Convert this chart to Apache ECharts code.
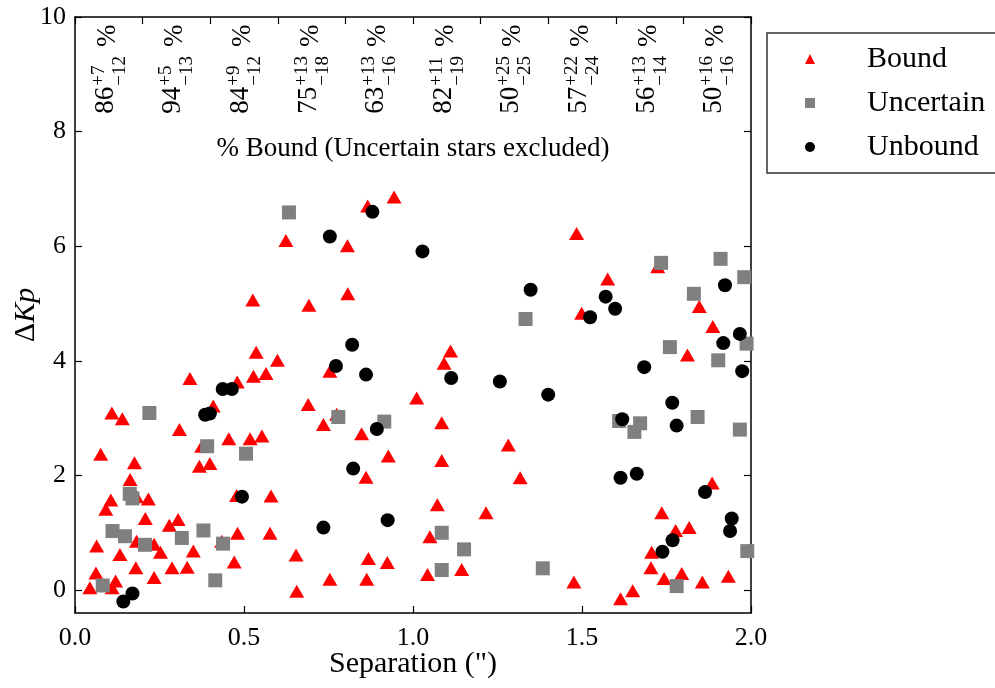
<!DOCTYPE html>
<html><head><meta charset="utf-8">
<script src="https://cdn.jsdelivr.net/npm/echarts@6/dist/echarts.min.js"></script>
<style>html,body{margin:0;padding:0;background:#fff}#c{width:995px;height:688px}</style>
</head><body><div id="c"></div>
<script>
const boundPts = [
 [0.109,3.09],[0.140,2.99],[0.409,3.21],[0.309,2.80],[0.455,2.64],[0.518,2.64],[0.553,2.69],[0.375,2.51],
 [0.076,2.37],[0.176,2.22],[0.368,2.16],[0.399,2.21],[0.163,1.93],[0.182,1.63],[0.217,1.59],[0.106,1.57],
 [0.091,1.41],[0.478,1.65],[0.580,1.64],[0.208,1.25],[0.279,1.13],[0.305,1.23],[0.182,0.85],[0.234,0.80],
 [0.253,0.66],[0.350,0.68],[0.434,0.85],[0.481,0.99],[0.577,0.99],[0.654,0.61],[0.064,0.77],[0.133,0.62],
 [0.471,0.49],[0.180,0.39],[0.287,0.39],[0.332,0.40],[0.234,0.22],[0.062,0.30],[0.044,0.04],[0.120,0.16],
 [0.110,0.04],[0.656,-0.02],[0.624,6.10],[0.526,5.06],[0.536,4.15],[0.599,4.01],[0.528,3.73],[0.565,3.78],
 [0.340,3.69],[0.480,3.63],[0.866,6.70],[0.944,6.86],[0.806,6.01],[0.807,5.17],[0.692,4.97],[0.754,3.82],
 [1.111,4.17],[1.092,3.96],[1.011,3.35],[0.690,3.24],[0.774,3.07],[0.735,2.89],[0.848,2.73],[1.085,2.92],
 [1.282,2.53],[0.927,2.34],[1.085,2.26],[0.861,1.97],[1.317,1.96],[1.072,1.49],[1.216,1.35],[1.050,0.93],
 [0.868,0.55],[0.924,0.48],[1.043,0.27],[1.144,0.36],[0.754,0.19],[0.863,0.19],[1.484,6.22],[1.724,5.64],
 [1.576,5.43],[1.847,4.95],[1.499,4.83],[1.887,4.60],[1.812,4.10],[1.885,1.87],[1.736,1.35],[1.817,1.09],
 [1.777,1.04],[1.706,0.66],[1.704,0.39],[1.743,0.20],[1.795,0.29],[1.856,0.14],[1.933,0.24],[1.476,0.14],
 [1.650,-0.01],[1.614,-0.15]
];
const uncertainPts = [
 [0.220,3.09],[0.391,2.51],[0.506,2.38],[0.162,1.68],[0.170,1.60],[0.111,1.03],[0.148,0.94],[0.207,0.79],
 [0.316,0.91],[0.380,1.04],[0.438,0.81],[0.082,0.08],[0.415,0.17],[0.633,6.59],[0.779,3.02],[0.915,2.94],
 [1.085,1.00],[1.151,0.71],[1.085,0.35],[1.333,4.73],[1.910,5.78],[1.734,5.71],[1.980,5.46],[1.831,5.17],
 [1.987,4.30],[1.760,4.24],[1.903,4.01],[1.672,2.91],[1.655,2.76],[1.842,3.02],[1.967,2.80],[1.989,0.68],
 [1.384,0.38],[1.780,0.07],[1.610,2.95]
];
const unboundPts = [
 [0.385,3.06],[0.399,3.08],[0.494,1.63],[0.170,-0.06],[0.143,-0.20],[0.437,3.51],[0.464,3.51],[0.880,6.60],
 [0.754,6.17],[1.028,5.91],[0.820,4.28],[0.772,3.91],[0.861,3.76],[1.113,3.70],[1.257,3.64],[0.893,2.81],
 [0.823,2.12],[0.735,1.09],[0.925,1.22],[1.348,5.24],[1.923,5.32],[1.570,5.12],[1.598,4.91],[1.524,4.76],
 [1.967,4.47],[1.918,4.31],[1.974,3.82],[1.684,3.89],[1.400,3.41],[1.767,3.27],[1.619,2.98],[1.780,2.87],
 [1.614,1.96],[1.662,2.03],[1.864,1.71],[1.943,1.25],[1.938,1.03],[1.768,0.87],[1.738,0.67]
];
const binCenters = [0.1,0.3,0.5,0.7,0.9,1.1,1.3,1.5,1.7,1.9];
const pctBound   = [86,94,84,75,63,82,50,57,56,50];
const errPlus    = [7,5,9,13,13,11,25,22,13,16];
const errMinus   = [12,13,12,18,16,19,25,24,14,16];
const annotTopY = 9.87;
const captionPos = [1.0, 7.70];
const captionText = '% Bound (Uncertain stars excluded)';
const yTickValues = [0,2,4,6,8,10];

const FONT = '"Liberation Serif","Times New Roman",serif';
const mctx = document.createElement('canvas').getContext('2d');
function tw(s, size){ mctx.font = size + 'px "Liberation Serif"'; return mctx.measureText(s).width; }

const chart = echarts.init(document.getElementById('c'), null, {renderer:'canvas'});
const axisLine = {show:true, onZero:false, lineStyle:{color:'#000', width:1.5}};
const tick = {show:true, inside:true, length:7, lineStyle:{color:'#000', width:1.2}};

const annotData = binCenters.map((x,i)=>[x, annotTopY, pctBound[i], errPlus[i], errMinus[i]]);

chart.setOption({
  animation:false,
  backgroundColor:'#fff',
  grid:{left:75, right:244, top:17, bottom:75, containLabel:false, outerBoundsMode:'none'},
  legend:{
    orient:'vertical', left:767, top:33,
    padding:[9,30,9,38],
    itemWidth:10, itemHeight:10, itemGap:10,
    borderColor:'#333', borderWidth:1.5, borderRadius:0,
    textStyle:{fontFamily:FONT, fontSize:30, color:'#000', lineHeight:34, padding:[0,0,0,47]},
    data:['Bound','Uncertain','Unbound']
  },
  xAxis:[
    {type:'value', min:0, max:2, interval:0.5, position:'bottom',
     name:'Separation (")', nameLocation:'middle', nameGap:36, nameMoveOverlap:false,
     nameTextStyle:{fontFamily:FONT, fontSize:30, color:'#000'},
     axisLine:axisLine, axisTick:tick, splitLine:{show:false},
     axisLabel:{fontFamily:FONT, fontSize:26, color:'#000', margin:12, formatter:v=>v.toFixed(1)}},
    {type:'value', min:0, max:2, interval:0.2, position:'top',
     axisLine:axisLine, axisTick:tick, splitLine:{show:false}, axisLabel:{show:false}}
  ],
  yAxis:[
    {type:'value', min:-0.4, max:10, position:'left',
     name:'{d|Δ}{k|Kp}', nameLocation:'middle', nameGap:34, nameMoveOverlap:false,
     nameTextStyle:{fontFamily:FONT, fontSize:30, color:'#000',
       rich:{d:{fontFamily:FONT, fontSize:30, color:'#000'}, k:{fontFamily:FONT, fontSize:30, fontStyle:'italic', color:'#000'}}},
     axisLine:axisLine, splitLine:{show:false},
     axisTick:Object.assign({customValues:yTickValues}, tick),
     axisLabel:{fontFamily:FONT, fontSize:26, color:'#000', margin:9, customValues:yTickValues}},
    {type:'value', min:-0.4, max:10, position:'right',
     axisLine:axisLine, splitLine:{show:false},
     axisTick:Object.assign({customValues:yTickValues}, tick),
     axisLabel:{show:false, customValues:yTickValues}}
  ],
  series:[
    {name:'Bound', type:'scatter', data:boundPts, symbol:'triangle', symbolSize:[15,13],
     itemStyle:{color:'#ff0000', opacity:1}, silent:true},
    {name:'Uncertain', type:'scatter', data:uncertainPts, symbol:'rect', symbolSize:14,
     itemStyle:{color:'#808080', opacity:1}, silent:true},
    {name:'Unbound', type:'scatter', data:unboundPts, symbol:'circle', symbolSize:14,
     itemStyle:{color:'#000000', opacity:1}, silent:true},
    {name:'annot', type:'custom', data:annotData, clip:false, silent:true, z:10,
     renderItem:function(params, api){
       const p = api.coord([api.value(0), api.value(1)]);
       const F = 27, f = 19;
       const main = String(api.value(2)), sup = '+' + api.value(3), sub = '\u2212' + api.value(4);
       const wMain = tw(main,F), wSup = tw(sup,f), wSub = tw(sub,f), wPct = tw('%',F);
       const gap = 9;
       const W = wMain + 1 + Math.max(wSup,wSub) + gap + wPct;
       const x0 = -W;
       const st = (t,s)=>({text:t, fontFamily:FONT, fontSize:s, fill:'#000', align:'left', verticalAlign:'middle'});
       return {type:'group', x:p[0], y:p[1], rotation:Math.PI/2, children:[
         {type:'text', x:x0, y:-3, style:st(main,F)},
         {type:'text', x:x0+wMain+1, y:-10, style:st(sup,f)},
         {type:'text', x:x0+wMain+1, y:11, style:st(sub,f)},
         {type:'text', x:x0+wMain+1+Math.max(wSup,wSub)+gap, y:-1, style:st('%',F)}
       ]};
     }},
    {name:'caption', type:'custom', data:[captionPos], clip:false, silent:true, z:10,
     renderItem:function(params, api){
       const p = api.coord([api.value(0), api.value(1)]);
       return {type:'text', x:p[0], y:p[1], style:{text:captionText, fontFamily:FONT, fontSize:27, fill:'#000', align:'center', verticalAlign:'middle'}};
     }}
  ]
});
</script></body></html>
